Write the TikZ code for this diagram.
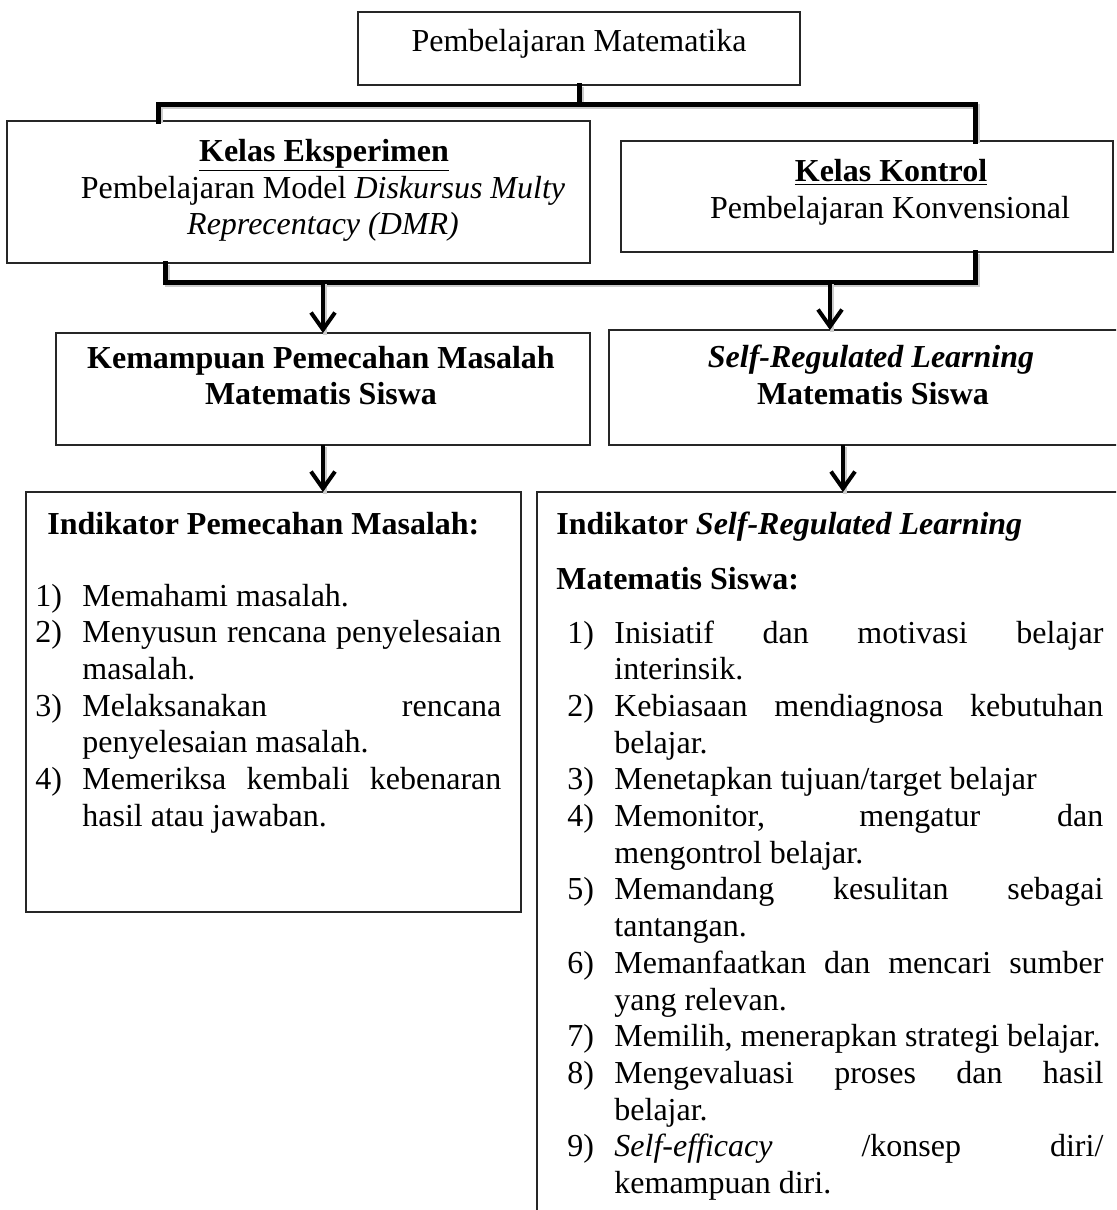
\documentclass[tikz,border=0pt]{standalone}
\usepackage{fontspec}
\setmainfont{Liberation Serif}
\usetikzlibrary{arrows.meta}
\newlength\numw
\newlength\txtw
\newcommand{\rowJ}[2]{\hbox{\makebox[\numw][l]{#1}\makebox[\txtw][s]{#2}}}
\newcommand{\rowL}[2]{\hbox{\makebox[\numw][l]{#1}\makebox[\txtw][l]{#2}}}
\tikzset{
  px/.style={x=0.5pt,y=-0.5pt},
  box/.style={draw=black!85, line width=0.8pt, rectangle, inner sep=0pt, outer sep=0pt},
  conn/.style={line width=2.5pt, line join=miter, line cap=rect,
    preaction={draw=black!20, line width=2.5pt, transform canvas={shift={(1.2pt,-1.2pt)}}}},
  arr/.style={line width=2pt, -{Straight Barb[length=8.5pt,width=12pt]},
    preaction={draw=black!20, line width=2pt, transform canvas={shift={(1pt,-1pt)}}, -{}}},
  txt/.style={anchor=base, inner sep=0pt, font=\fontsize{16}{18.4}\selectfont},
  txtw/.style={anchor=base west, inner sep=0pt, font=\fontsize{16}{18.4}\selectfont},
}
\begin{document}
\begin{tikzpicture}[px]
\useasboundingbox (0,0) rectangle (1116,1210);
\clip (0,0) rectangle (1116,1210);
\fill[white] (0,0) rectangle (1116,1210);

% boxes
\node[box, minimum width=221pt, minimum height=36.5pt] (top) at (579,48.5) {};
\node[box, minimum width=291.5pt, minimum height=71pt] (eks) at (298.5,192) {};
\node[box, minimum width=246pt, minimum height=55.5pt] (kon) at (867,196.5) {};
\node[box, minimum width=267pt, minimum height=56pt] (kem) at (323,389) {};
\node[box, minimum width=260.5pt, minimum height=57.5pt] (srl) at (869.5,387.5) {};
\node[box, minimum width=247.5pt, minimum height=210pt] (indL) at (273.5,702) {};
\node[box, minimum width=296.5pt, minimum height=366.5pt] (indR) at (833.5,858.5) {};

% junction coordinates
\coordinate (barL) at (158,104);
\coordinate (barR) at (975,104);
\coordinate (lbarL) at (165,282);
\coordinate (lbarR) at (975,282);
\coordinate (a2) at (830,282);
\coordinate (a4) at (843,445);

% connectors
\draw[conn] (top.south) -- (top.south |- barL);
\draw[conn] (eks.north -| barL) -- (barL) -- (barR) -- (barR |- kon.north);
\draw[conn] (eks.south -| lbarL) -- (lbarL) -- (lbarR) -- (kon.south -| lbarR);
\draw[arr] (kem.north |- lbarL) -- (kem.north);
\draw[arr] (a2) -- (a2 |- srl.north);
\draw[arr] (kem.south) -- (kem.south |- indL.north);
\draw[arr] (srl.south -| a4) -- (indR.north -| a4);

% texts
\node[txt] (t0) at (579,51) {Pembelajaran Matematika};
\node[txt] (t1a) at (324,161) {\underline{\textbf{Kelas Eksperimen}}};
\node[txt] (t1b) at (323,198) {Pembelajaran Model \textit{Diskursus Multy}};
\node[txt] (t1c) at (323,234) {\textit{Reprecentacy (DMR)}};
\node[txt] (t2a) at (891,181) {\underline{\textbf{Kelas Kontrol}}};
\node[txt] (t2b) at (890,218) {Pembelajaran Konvensional};
\node[txt] (t3a) at (321,368) {\textbf{Kemampuan Pemecahan Masalah}};
\node[txt] (t3b) at (321,404) {\textbf{Matematis Siswa}};
\node[txt] (t4a) at (871,367) {\textbf{\textit{Self-Regulated Learning}}};
\node[txt] (t4b) at (873,404) {\textbf{Matematis Siswa}};

\node[txtw] (t5h) at (47,534) {\textbf{Indikator Pemecahan Masalah:}};
\node[txtw] (t5) at (35,606) {\setlength\numw{23.5pt}\setlength\txtw{209.5pt}%
\vtop{\baselineskip=18.35pt\lineskip=0pt\lineskiplimit=-100pt
\rowL{1)}{Memahami masalah.}
\rowJ{2)}{Menyusun rencana penyelesaian}
\rowL{}{masalah.}
\rowJ{3)}{Melaksanakan rencana}
\rowL{}{penyelesaian masalah.}
\rowJ{4)}{Memeriksa kembali kebenaran}
\rowL{}{hasil atau jawaban.}
}};

\node[txtw] (t6h) at (556,534) {\textbf{Indikator \textit{Self-Regulated Learning}}};
\node[txtw] (t6h2) at (556,589) {\textbf{Matematis Siswa:}};
\node[txtw] (t6) at (567,643) {\setlength\numw{23.5pt}\setlength\txtw{244.5pt}%
\vtop{\baselineskip=18.35pt\lineskip=0pt\lineskiplimit=-100pt
\rowJ{1)}{Inisiatif dan motivasi belajar}
\rowL{}{interinsik.}
\rowJ{2)}{Kebiasaan mendiagnosa kebutuhan}
\rowL{}{belajar.}
\rowL{3)}{Menetapkan tujuan/target belajar}
\rowJ{4)}{Memonitor, mengatur dan}
\rowL{}{mengontrol belajar.}
\rowJ{5)}{Memandang kesulitan sebagai}
\rowL{}{tantangan.}
\rowJ{6)}{Memanfaatkan dan mencari sumber}
\rowL{}{yang relevan.}
\rowL{7)}{Memilih, menerapkan strategi belajar.}
\rowJ{8)}{Mengevaluasi proses dan hasil}
\rowL{}{belajar.}
\rowJ{9)}{\textit{Self-efficacy} /konsep diri/}
\rowL{}{kemampuan diri.}
}};
\end{tikzpicture}
\end{document}
